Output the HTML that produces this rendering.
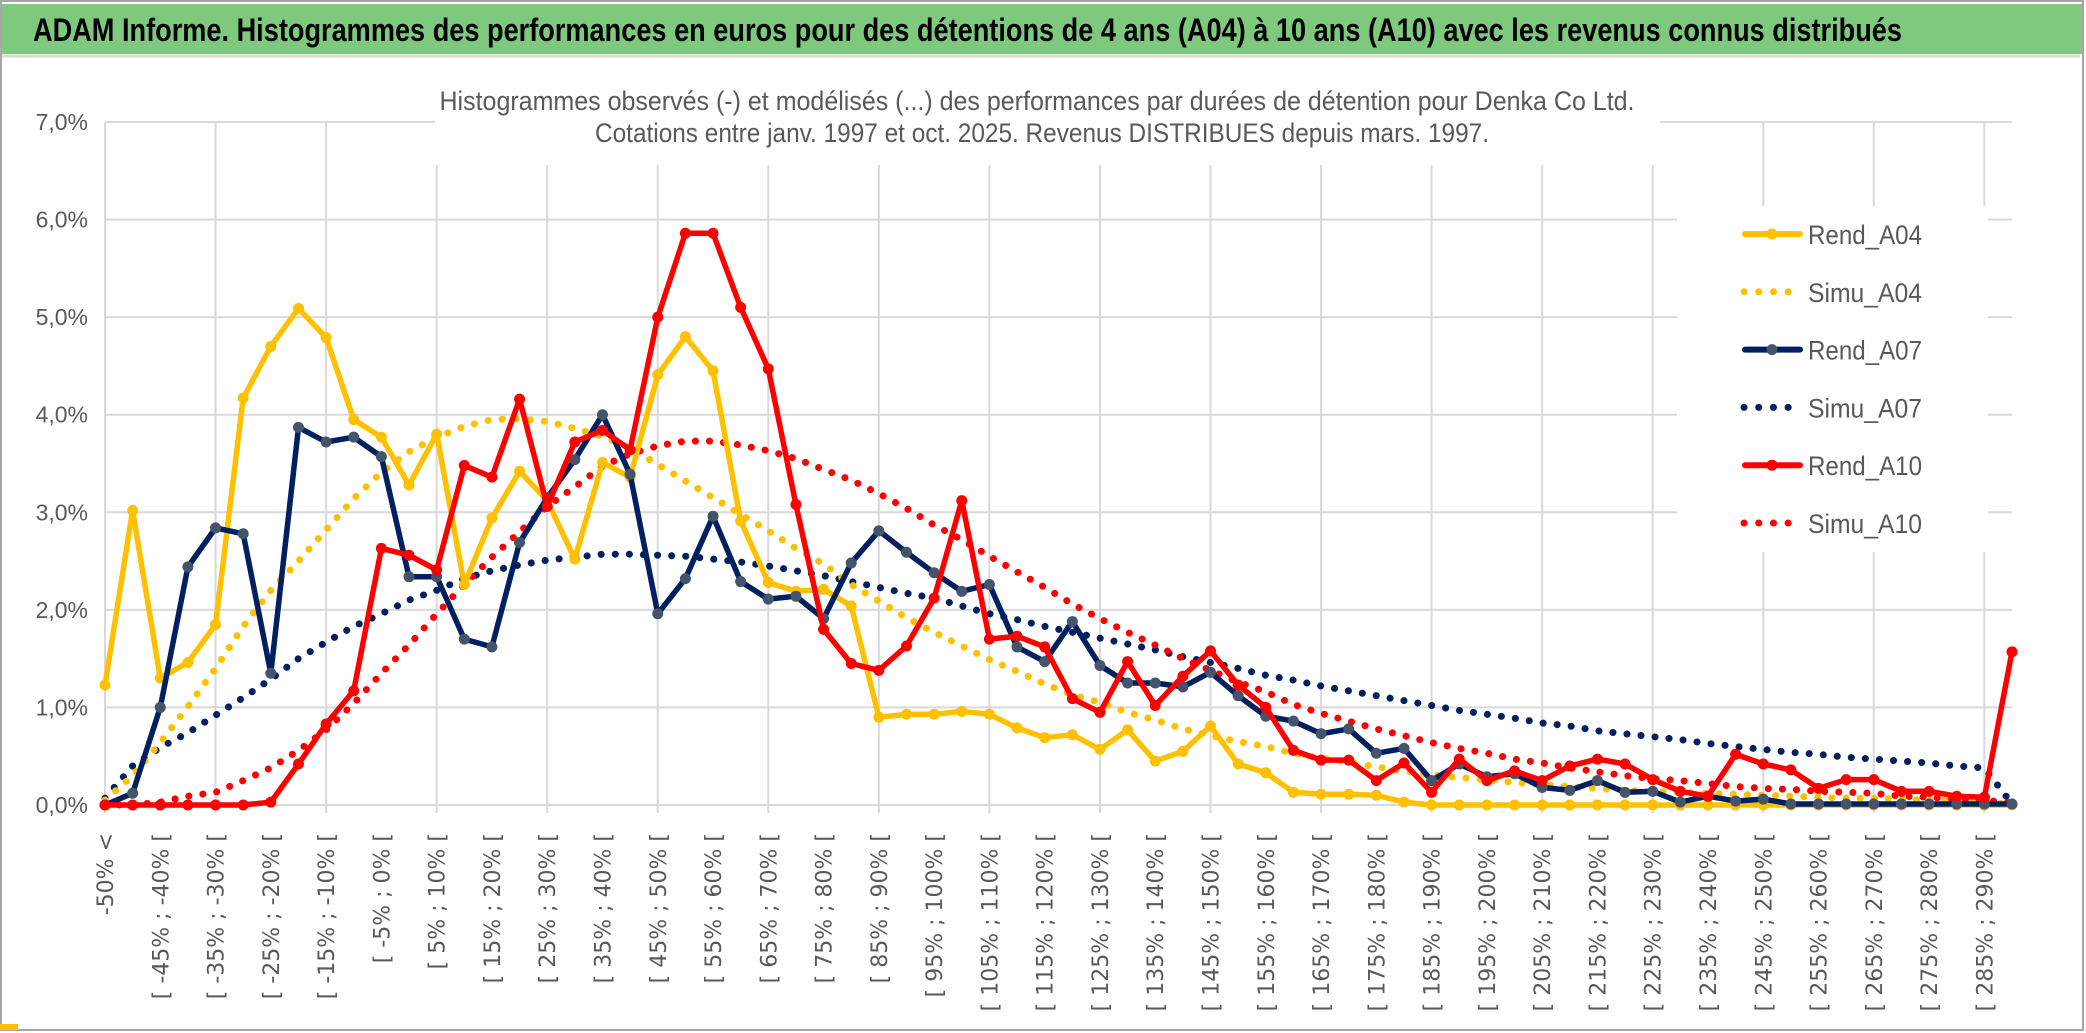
<!DOCTYPE html>
<html><head><meta charset="utf-8"><style>
html,body{margin:0;padding:0;background:#fff;}
svg{display:block;font-family:"Liberation Sans",sans-serif;}
</style></head><body>
<svg id="chart" width="2086" height="1033" viewBox="0 0 2086 1033" xmlns="http://www.w3.org/2000/svg">
<rect x="0" y="0" width="2086" height="1033" fill="#fff"/>
<rect x="1" y="1" width="2082" height="1029" fill="none" stroke="#a6a6a6" stroke-width="2"/>
<rect x="2" y="4" width="2080" height="50" fill="#7fc97f"/>
<line x1="2" y1="56" x2="2080" y2="56" stroke="#d9d9d9" stroke-width="3"/>
<text x="33" y="41" font-size="32" font-weight="bold" fill="#000" textLength="1869" lengthAdjust="spacingAndGlyphs">ADAM Informe. Histogrammes des performances en euros pour des détentions de 4 ans (A04) à 10 ans (A10) avec les revenus connus distribués</text>
<rect x="0" y="1024" width="18" height="6" fill="#ffc000"/>
<g id="grid"></g>
<rect x="435" y="80" width="1225" height="85" fill="#fff"/>
<text x="1037" y="110" font-size="27" fill="#595959" text-anchor="middle" textLength="1195" lengthAdjust="spacingAndGlyphs">Histogrammes observés (-) et modélisés (...) des performances par durées de détention pour Denka Co Ltd.</text>
<text x="1042" y="142" font-size="27" fill="#595959" text-anchor="middle" textLength="894" lengthAdjust="spacingAndGlyphs">Cotations entre janv. 1997 et oct. 2025. Revenus DISTRIBUES depuis mars. 1997.</text>
<g id="yaxis"></g>
<g id="xaxis"></g>
<g id="series"></g>
<g id="legend"></g>
</svg>
<script>
const categories = [];
const rend04 = [1.23,3.02,1.30,1.46,1.85,4.17,4.70,5.09,4.79,3.95,3.77,3.28,3.80,2.26,2.94,3.42,3.12,2.52,3.51,3.36,4.41,4.80,4.45,2.91,2.28,2.19,2.21,2.04,0.90,0.93,0.93,0.96,0.93,0.79,0.69,0.72,0.57,0.77,0.45,0.55,0.81,0.42,0.33,0.13,0.11,0.11,0.10,0.03,0,0,0,0,0,0,0,0,0,0,0,0,0,0,0,0,0,0,0,0,0,0];
const rend07 = [0,0.12,1.00,2.44,2.84,2.78,1.35,3.87,3.72,3.77,3.57,2.34,2.34,1.70,1.62,2.69,3.15,3.54,4.00,3.39,1.96,2.32,2.96,2.29,2.11,2.14,1.91,2.48,2.81,2.59,2.38,2.19,2.26,1.62,1.47,1.88,1.43,1.25,1.25,1.21,1.36,1.12,0.91,0.86,0.73,0.78,0.53,0.58,0.25,0.42,0.29,0.32,0.18,0.15,0.25,0.13,0.14,0.03,0.09,0.04,0.06,0.01,0.01,0.01,0.01,0.01,0.01,0.01,0.01,0.01];
const rend10 = [0,0,0,0,0,0,0.03,0.42,0.83,1.17,2.63,2.56,2.41,3.48,3.36,4.16,3.06,3.72,3.84,3.64,5.00,5.86,5.86,5.10,4.47,3.08,1.80,1.45,1.38,1.63,2.12,3.12,1.70,1.73,1.62,1.09,0.95,1.47,1.02,1.32,1.58,1.23,1.00,0.56,0.46,0.46,0.25,0.43,0.13,0.47,0.25,0.35,0.25,0.40,0.47,0.42,0.26,0.14,0.09,0.52,0.42,0.36,0.17,0.26,0.26,0.14,0.14,0.09,0.08,1.57];
const simu04 = [0.05,0.30,0.64,1.01,1.40,1.83,2.20,2.50,2.82,3.14,3.41,3.62,3.77,3.88,3.95,3.96,3.93,3.86,3.78,3.66,3.49,3.32,3.15,2.98,2.81,2.63,2.47,2.26,2.09,1.92,1.77,1.63,1.49,1.37,1.24,1.13,1.05,0.95,0.87,0.78,0.71,0.65,0.60,0.53,0.48,0.44,0.39,0.35,0.31,0.28,0.26,0.23,0.21,0.19,0.17,0.15,0.14,0.13,0.12,0.11,0.10,0.09,0.08,0.07,0.07,0.06,0.05,0.05,0.04,0.00];
const simu07 = [0.07,0.40,0.59,0.74,0.92,1.10,1.29,1.50,1.67,1.83,1.96,2.10,2.20,2.32,2.40,2.46,2.51,2.54,2.57,2.57,2.56,2.55,2.52,2.49,2.45,2.40,2.35,2.29,2.23,2.17,2.12,2.04,1.96,1.90,1.83,1.77,1.71,1.65,1.59,1.52,1.46,1.40,1.33,1.28,1.22,1.17,1.12,1.07,1.02,0.97,0.93,0.89,0.84,0.81,0.76,0.73,0.70,0.67,0.63,0.60,0.57,0.54,0.52,0.49,0.47,0.45,0.43,0.40,0.38,0.01];
const simu10 = [0,0,0.03,0.09,0.13,0.25,0.38,0.56,0.77,1.04,1.35,1.64,1.96,2.26,2.54,2.80,3.06,3.26,3.47,3.60,3.68,3.73,3.73,3.69,3.63,3.55,3.44,3.33,3.19,3.04,2.87,2.72,2.55,2.39,2.23,2.06,1.91,1.77,1.64,1.50,1.38,1.26,1.16,1.03,0.94,0.86,0.78,0.71,0.64,0.58,0.53,0.47,0.43,0.38,0.34,0.30,0.27,0.25,0.22,0.19,0.17,0.16,0.14,0.13,0.12,0.09,0.08,0.06,0.05,0.02];
const yTicks = [0,1,2,3,4,5,6,7];
const yTickLabels = ["0,0%","1,0%","2,0%","3,0%","4,0%","5,0%","6,0%","7,0%"];
const legendLabels = ["Rend_A04","Simu_A04","Rend_A07","Simu_A07","Rend_A10","Simu_A10"];

categories.push("-50% <");
for (let k = 1; k < 70; k++) { categories.push("[ " + (-55 + 5*k) + "% ; " + (-50 + 5*k) + "% ["); }

const NS = "http://www.w3.org/2000/svg";
const X0 = 105, X1 = 2012, Y0 = 805, YTOP = 122;
function xPos(i) { return X0 + i * (X1 - X0) / (categories.length - 1); }
function yPos(v) { return Y0 - v * (Y0 - YTOP) / 7; }
function mk(tag, attrs, parent) { const e = document.createElementNS(NS, tag); for (const k in attrs) e.setAttribute(k, attrs[k]); parent.appendChild(e); return e; }

const grid = document.getElementById('grid');
yTicks.forEach(function(t){
  const l = mk('line', {x1: X0, x2: X1, y1: yPos(t), y2: yPos(t), stroke: '#d9d9d9', 'stroke-width': 2}, grid);
  
  
});
for (let i = 0; i < categories.length; i += 4) {
  const l = mk('line', {x1: xPos(i), x2: xPos(i), y1: YTOP, y2: Y0 + 8, stroke: '#d9d9d9', 'stroke-width': 2}, grid);
  
  
}

const yaxis = document.getElementById('yaxis');
yTicks.forEach(function(t, i){
  const tx = mk('text', {x: 88, y: yPos(t) + 8, 'font-size': 23, fill: '#595959', 'text-anchor': 'end'}, yaxis);
  tx.textContent = yTickLabels[i];
  
  
});

const xaxis = document.getElementById('xaxis');
for (let i = 0; i < categories.length; i += 2) {
  const x = xPos(i) + 8, y = 833;
  const tx = mk('text', {x: x, y: y, 'font-size': 22, 'font-family': '"DejaVu Sans", sans-serif', fill: '#595959', 'text-anchor': 'end', transform: 'rotate(-90 ' + x + ' ' + y + ')'}, xaxis);
  tx.textContent = categories[i];
  
  
}

const series = document.getElementById('series');
function pathD(arr) { return arr.map(function(v, i){ return (i ? 'L' : 'M') + xPos(i).toFixed(1) + ' ' + yPos(v).toFixed(1); }).join(' '); }
function dotted(arr, color, name) {
  const p = mk('path', {d: pathD(arr), fill: 'none', stroke: color, 'stroke-width': 7, 'stroke-linecap': 'round', 'stroke-dasharray': '0.1 14'}, series);
  
  
}
function solid(arr, color, mcolor, name) {
  const p = mk('path', {d: pathD(arr), fill: 'none', stroke: color, 'stroke-width': 5.5, 'stroke-linejoin': 'round'}, series);
  
  
  arr.forEach(function(v, i){
    const c = mk('circle', {cx: xPos(i), cy: yPos(v), r: 5.5, fill: mcolor}, series);
    
    
  });
}
dotted(simu07, '#002060', 'simu-a07-line');
dotted(simu04, '#ffc000', 'simu-a04-line');
dotted(simu10, '#ff0000', 'simu-a10-line');
solid(rend04, '#ffc000', '#ffc000', 'rend-a04-line');
solid(rend07, '#002060', '#44546a', 'rend-a07-line');
solid(rend10, '#ff0000', '#ff0000', 'rend-a10-line');

const legend = document.getElementById('legend');
const lb = mk('rect', {x: 1677, y: 206, width: 311, height: 346, fill: '#fff'}, legend);


const legColors = ['#ffc000','#ffc000','#002060','#002060','#ff0000','#ff0000'];
const legMarker = ['#ffc000',null,'#44546a',null,'#ff0000',null];
legendLabels.forEach(function(lab, i){
  const y = 234 + i * 57.8;
  const g = mk('g', {}, legend);
  
  
  if (legMarker[i]) {
    mk('line', {x1: 1745, x2: 1800, y1: y, y2: y, stroke: legColors[i], 'stroke-width': 6, 'stroke-linecap': 'round'}, g);
    mk('circle', {cx: 1772, cy: y, r: 5.5, fill: legMarker[i]}, g);
  } else {
    mk('line', {x1: 1744, x2: 1790, y1: y, y2: y, stroke: legColors[i], 'stroke-width': 7, 'stroke-linecap': 'round', 'stroke-dasharray': '0.1 14.6'}, g);
  }
  const t = mk('text', {x: 1808, y: y + 10, 'font-size': 27, fill: '#595959', textLength: 114, lengthAdjust: 'spacingAndGlyphs'}, g);
  t.textContent = lab;
});
</script>
</body></html>
